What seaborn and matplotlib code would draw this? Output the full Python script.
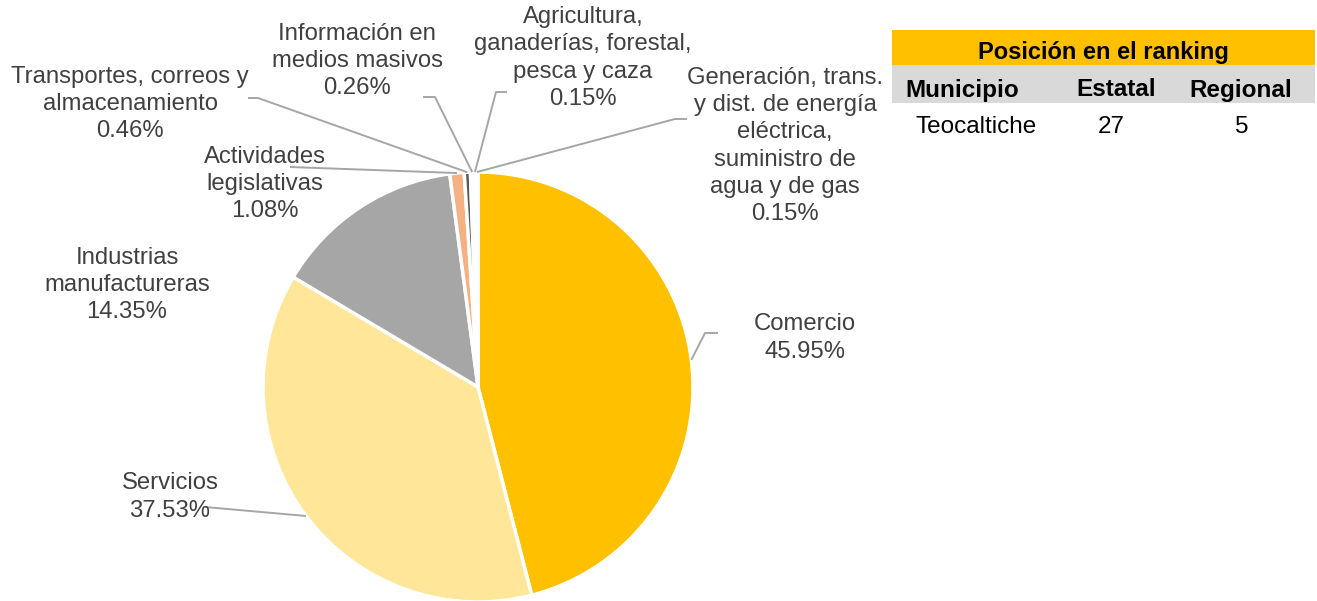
"""Pie of economic units by sector (Teocaltiche) with ranking table."""

import matplotlib

matplotlib.use("Agg")
import matplotlib.pyplot as plt
import numpy as np
import seaborn as sns

SECTORS = [
    "Comercio",
    "Servicios",
    "Industrias\nmanufactureras",
    "Actividades\nlegislativas",
    "Transportes, correos y\nalmacenamiento",
    "Información en\nmedios masivos",
    "Agricultura,\nganaderías, forestal,\npesca y caza",
    "Generación, trans.\ny dist. de energía\neléctrica,\nsuministro de\nagua y de gas",
]
SHARES = [45.95, 37.53, 14.35, 1.08, 0.46, 0.26, 0.15, 0.15]
COLORS = ["#FFC000", "#FFE699", "#A6A6A6", "#F4B183", "#595959", "#262626", "#7F7F7F", "#BF9000"]

TABLE_TITLE = "Posición en el ranking"
TABLE_HEADER = ["Municipio", "Estatal", "Regional"]
TABLE_ROW = ["Teocaltiche", "27", "5"]

W, H = 1317, 601
CENTER = (478, 387)
RADIUS = 215

# label centre (px) and leader line points from the text side (px), None = no line
LABEL_LAYOUT = [
    ((805, 338), [(718, 333), (705, 333)]),
    ((170, 497), [(205, 507)]),
    ((127, 285), None),
    ((265, 184), [(290, 167)]),
    ((130, 104), [(248, 98), (258, 98)]),
    ((357, 61), [(423, 97), (435, 97)]),
    ((583, 58), [(507, 92), (496, 92)]),
    ((785, 146), [(687, 119), (675, 119)]),
]

TEXT_COLOR = "#404040"
LINE_COLOR = "#A6A6A6"


def py(y):
    """Pixel row to data y."""
    return H - y


def main():
    sns.set_theme(style="white")
    plt.rcParams["font.family"] = ["Liberation Sans", "DejaVu Sans"]

    fig = plt.figure(figsize=(W / 100, H / 100), dpi=100)
    ax = fig.add_axes([0, 0, 1, 1])

    wedges, _ = ax.pie(
        SHARES,
        colors=COLORS,
        startangle=90,
        counterclock=False,
        center=(CENTER[0], py(CENTER[1])),
        radius=RADIUS,
        wedgeprops={"edgecolor": "white", "linewidth": 2.5},
    )
    ax.set_xlim(0, W)
    ax.set_ylim(0, H)
    ax.set_aspect("auto")
    ax.axis("off")

    for share, name, wedge, (pos, leader) in zip(SHARES, SECTORS, wedges, LABEL_LAYOUT):
        ax.text(
            pos[0], py(pos[1]), f"{name}\n{share:.2f}%",
            ha="center", va="center", fontsize=17.2, color=TEXT_COLOR, linespacing=1.3,
        )
        if leader is None:
            continue
        mid = np.deg2rad((wedge.theta1 + wedge.theta2) / 2)
        end = (CENTER[0] + RADIUS * np.cos(mid), py(CENTER[1]) + RADIUS * np.sin(mid))
        xs = [p[0] for p in leader] + [end[0]]
        ys = [py(p[1]) for p in leader] + [end[1]]
        ax.plot(xs, ys, color=LINE_COLOR, lw=1.4, solid_capstyle="butt")

    # ranking table
    ax.add_patch(plt.Rectangle((892, py(65)), 423, 35, color="#FFC000", lw=0))
    ax.add_patch(plt.Rectangle((892, py(103)), 423, 38, color="#D9D9D9", lw=0))
    ax.text(1103, py(52), TABLE_TITLE, ha="center", va="center",
            fontsize=17, fontweight="bold", color="black")
    head_x = [962, 1116, 1241]
    row_x = [976, 1111, 1242]
    for hx, rx, head, val in zip(head_x, row_x, TABLE_HEADER, TABLE_ROW):
        ax.text(hx, py(90), head, ha="center", va="center",
                fontsize=17.5, fontweight="bold", color="black")
        ax.text(rx, py(127), val, ha="center", va="center",
                fontsize=17.5, color="black")

    fig.savefig("out.png", dpi=100)
    plt.close(fig)


if __name__ == "__main__":
    main()
